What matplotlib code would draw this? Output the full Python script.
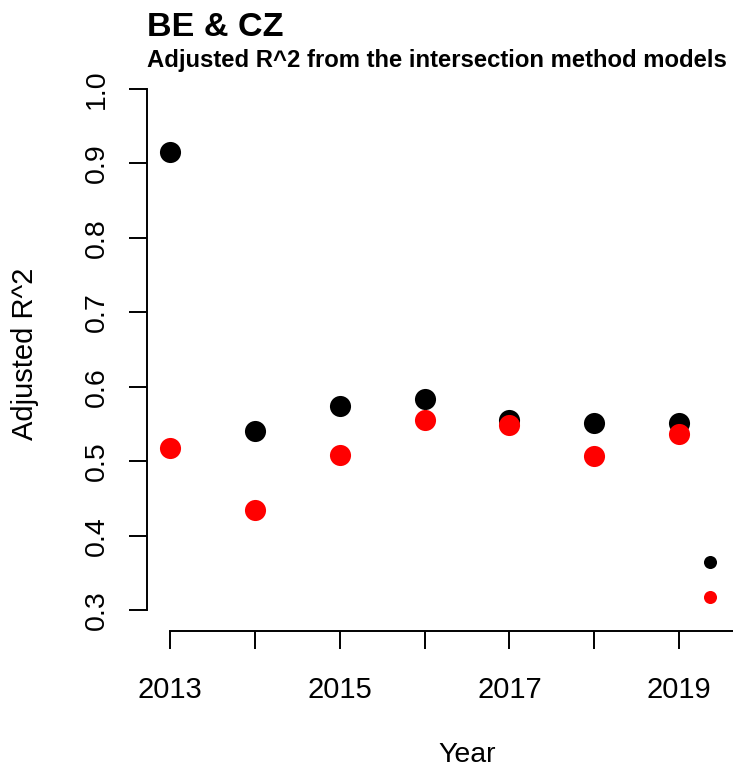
import matplotlib
matplotlib.use("Agg")
import matplotlib.pyplot as plt

plt.rcParams['font.family'] = ['Liberation Sans', 'DejaVu Sans']

years = [2013, 2014, 2015, 2016, 2017, 2018, 2019]
r2_black = [0.915, 0.540, 0.574, 0.584, 0.555, 0.551, 0.551]
r2_red = [0.518, 0.435, 0.508, 0.555, 0.548, 0.507, 0.536]
mean_x = [2019.36]
mean_black = [0.365]
mean_red = [0.318]

y_ticks = [0.3, 0.4, 0.5, 0.6, 0.7, 0.8, 0.9, 1.0]
x_labels = ["2013", "", "2015", "", "2017", "", "2019"]

fig = plt.figure(figsize=(7.33, 7.68), dpi=100)
ax = fig.add_axes([0.2005, 0.1784, 0.7995, 0.7331])

ax.plot(years, r2_black, 'o', color='black', markersize=15.2, markeredgewidth=0)
ax.plot(years, r2_red, 'o', color='red', markersize=15.2, markeredgewidth=0)
ax.plot(mean_x, mean_black, 'o', color='black', markersize=9.4, markeredgewidth=0)
ax.plot(mean_x, mean_red, 'o', color='red', markersize=9.4, markeredgewidth=0)

ax.set_xlim(2012.729, 2019.635)
ax.set_ylim(0.272, 1.028)

for s in ['top', 'right']:
    ax.spines[s].set_visible(False)
ax.spines['left'].set_bounds(0.3, 1.0)
ax.spines['bottom'].set_bounds(2013, 2019.635)
for s in ['left', 'bottom']:
    ax.spines[s].set_linewidth(1.4)

ax.set_yticks(y_ticks)
ax.set_yticklabels([f"{v:.1f}" for v in y_ticks], rotation=90, va='center')
ax.set_xticks(years)
ax.set_xticklabels(x_labels)
ax.tick_params(axis='both', direction='out', length=13.2, width=1.4)
ax.tick_params(axis='x', pad=19, labelsize=21)
ax.tick_params(axis='y', pad=13.3, labelsize=20.5)

ax.set_ylabel("Adjusted R^2", fontsize=21)
ax.yaxis.label.set_va('center')
ax.yaxis.set_label_coords(-0.2082, 0.492)
ax.set_xlabel("Year", fontsize=20.5)
ax.xaxis.label.set_va('center')
ax.xaxis.set_label_coords(0.5456, -0.2208)

fig.text(0.2005, 0.953, "BE & CZ", fontsize=24.6, fontweight='bold', va='baseline')
fig.text(0.2005, 0.9132, "Adjusted R^2 from the intersection method models",
         fontsize=17.2, fontweight='bold', va='baseline')

fig.savefig("out.png", dpi=100)
